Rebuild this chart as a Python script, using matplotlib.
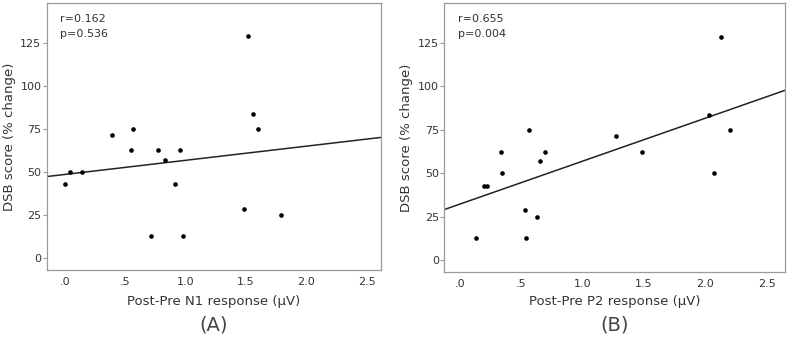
import matplotlib
matplotlib.use("Agg")
import matplotlib.pyplot as plt
import numpy as np

# Panel A: N1 response vs DSB score
n1_x = [1.52, 1.56, 1.60, 0.39, 0.56, 0.55, 0.77, 0.83, 0.95, 0.04, 0.14,
        0.00, 0.91, 0.71, 0.98, 1.48, 1.79]
n1_y = [128.6, 83.3, 75.0, 71.4, 75.0, 62.5, 62.5, 57.1, 62.5, 50.0, 50.0,
        42.9, 42.9, 12.5, 12.5, 28.6, 25.0]
fit_a = (48.5, 8.2)  # intercept, slope
stats_a = ["r=0.162", "p=0.536"]

# Panel B: P2 response vs DSB score
p2_x = [2.13, 2.03, 2.20, 0.56, 0.33, 0.65, 0.69, 1.27, 1.48, 0.34, 2.07,
        0.19, 0.22, 0.53, 0.63, 0.13, 0.54]
p2_y = [128.6, 83.3, 75.0, 75.0, 62.5, 57.1, 62.5, 71.4, 62.5, 50.0, 50.0,
        42.9, 42.9, 28.6, 25.0, 12.5, 12.5]
fit_b = (32.3, 24.7)
stats_b = ["r=0.655", "p=0.004"]

x_ticks = [0, 0.5, 1.0, 1.5, 2.0, 2.5]
x_tick_labels = [".0", ".5", "1.0", "1.5", "2.0", "2.5"]
y_ticks = [0, 25, 50, 75, 100, 125]

TEXT = "#333333"
SPINE = "#9a9a9a"

fig = plt.figure(figsize=(7.87, 3.39), dpi=100)
ax_a = fig.add_axes([0.0597, 0.2035, 0.4244, 0.7875])
ax_b = fig.add_axes([0.5646, 0.197, 0.4329, 0.794])


def draw_panel(ax, xs, ys, fit, stats, xlim, xlabel, tag):
    ax.scatter(xs, ys, s=11, c="black", zorder=3, linewidths=0)
    lx = np.array(xlim)
    ax.plot(lx, fit[0] + fit[1] * lx, color="#222222", lw=1.1, zorder=2)
    ax.set_xlim(*xlim)
    ax.set_ylim(-7, 148)
    ax.set_xticks(x_ticks)
    ax.set_xticklabels(x_tick_labels)
    ax.set_yticks(y_ticks)
    ax.tick_params(axis="x", length=0, pad=5, labelsize=8, labelcolor=TEXT)
    ax.tick_params(axis="y", length=3, width=0.8, color=SPINE, pad=1,
                   labelsize=8, labelcolor=TEXT)
    for sp in ax.spines.values():
        sp.set_color(SPINE)
        sp.set_linewidth(0.9)
    ax.set_ylabel("DSB score (% change)", fontsize=9.5, color=TEXT, labelpad=3)
    ax.text(0.04, 0.94, stats[0], transform=ax.transAxes, fontsize=8,
            color=TEXT, va="center")
    ax.text(0.04, 0.884, stats[1], transform=ax.transAxes, fontsize=8,
            color=TEXT, va="center")
    bb = ax.get_position()
    cx = (bb.x0 + bb.x1) / 2
    fig.text(cx, 1 - 301 / 339, xlabel, ha="center", va="center",
             fontsize=9.5, color=TEXT)
    fig.text(cx, 1 - 325 / 339, tag, ha="center", va="center",
             fontsize=14, color="#444444")


draw_panel(ax_a, n1_x, n1_y, fit_a, stats_a, (-0.15, 2.62),
           "Post-Pre N1 response (µV)", "(A)")
draw_panel(ax_b, p2_x, p2_y, fit_b, stats_b, (-0.13, 2.65),
           "Post-Pre P2 response (µV)", "(B)")

fig.savefig("out.png", dpi=100)
